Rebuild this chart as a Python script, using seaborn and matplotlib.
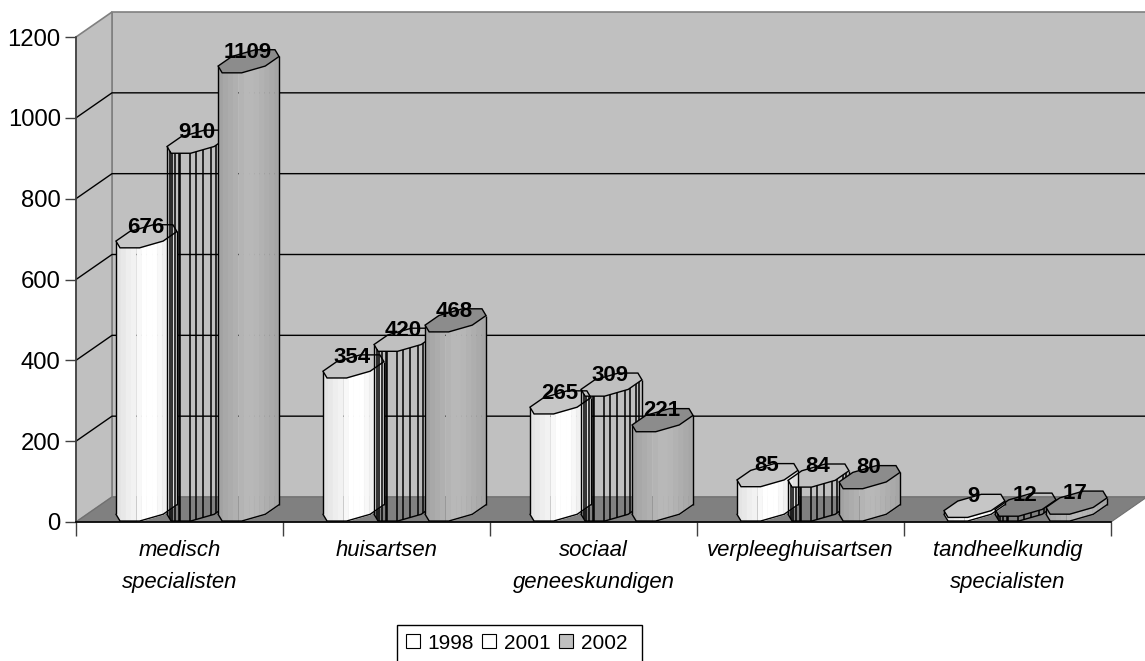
import numpy as np
import pandas as pd
import matplotlib
matplotlib.use("Agg")
import matplotlib.pyplot as plt
from matplotlib.patches import Patch, Rectangle
import seaborn as sns

categories = ["medisch\nspecialisten", "huisartsen", "sociaal\ngeneeskundigen",
              "verpleeghuisartsen", "tandheelkundig\nspecialisten"]
years = ["1998", "2001", "2002"]
values_1998 = [676, 354, 265, 85, 9]
values_2001 = [910, 420, 309, 84, 12]
values_2002 = [1109, 468, 221, 80, 17]
y_ticks = [0, 200, 400, 600, 800, 1000, 1200]

sns.set_theme(style="white")
plt.rcParams["font.family"] = ["Liberation Sans", "DejaVu Sans"]

W, H = 1145, 661
fig = plt.figure(figsize=(W / 100, H / 100), dpi=100, facecolor="white")
ax = fig.add_axes([76 / W, (H - 522) / H, 1069 / W, 510 / H])
ax.patch.set_alpha(0)

frame = pd.DataFrame({
    "category": categories * 3,
    "year": np.repeat(years, 5),
    "value": values_1998 + values_2001 + values_2002,
})
sns.barplot(data=frame, x="category", y="value", hue="year", order=categories,
            hue_order=years, width=0.74, gap=0, dodge=True, legend=False, ax=ax)

# Oblique projection of the floor depth, in data units
px_x = 207.0
px_y = 485.0 / 1200.0
depth_x = 36.0 / px_x
depth_y = 25.0 / px_y
ax.set_xlim(-0.5, -0.5 + 1069 / px_x)
ax.set_ylim(0, 510 / px_y)

# Walls and floor
left, right, top = -0.5, 4.5, 1200
wall_edge = "#808080"
ax.fill([left + depth_x, right + depth_x, right + depth_x, left + depth_x],
        [depth_y, depth_y, top + depth_y, top + depth_y],
        fc="#C0C0C0", ec=wall_edge, lw=1.2, zorder=0.5, clip_on=False)
ax.fill([left, left + depth_x, left + depth_x, left],
        [0, depth_y, top + depth_y, top],
        fc="#C0C0C0", ec=wall_edge, lw=1.2, zorder=0.5, clip_on=False)
ax.fill([left, left + depth_x, right + depth_x, right],
        [0, depth_y, depth_y, 0],
        fc="#808080", ec="#707070", lw=0.8, zorder=0.6, clip_on=False)
for tick in y_ticks[1:-1]:
    ax.plot([left, left + depth_x, right + depth_x],
            [tick, tick + depth_y, tick + depth_y],
            color="black", lw=1.0, zorder=0.7, clip_on=False)

angles = np.deg2rad(22.5 + 45 * np.arange(8))
front_angles = np.deg2rad([202.5, 247.5, 292.5, 337.5, 382.5])

shades = {
    "1998": ["#E4E4E4", "#E8E8E8", "#EEEEEE", "#F2F2F2", "#F8F8F8", "#FFFFFF",
             "#FFFFFF", "#FFFFFF", "#F8F8F8", "#F0F0F0", "#E8E8E8", "#E0E0E0"],
    "2002": ["#A2A2A2", "#A8A8A8", "#ACACAC", "#B0B0B0", "#B4B4B4", "#B8B8B8",
             "#B8B8B8", "#B6B6B6", "#B2B2B2", "#AEAEAE", "#AAAAAA", "#A6A6A6"],
}
cap_colors = {"1998": "#C6C6C6", "2001": "none", "2002": "#8C8C8C"}
hatch_fracs = np.array([2.7, 4.7, 8, 12.3, 14, 24, 30, 38, 45.7, 51.7, 57.3, 61.3]) / 64


def column(cx, half_width, value, year, z):
    """Draw one octagonal column standing on the floor."""
    mid_x = cx + depth_x / 2
    def ring(th):
        return (mid_x + half_width * np.cos(th) + depth_x / 2 * np.sin(th),
                depth_y / 2 * np.sin(th))
    fx, fy = ring(front_angles)
    order = np.argsort(fx)
    fx, fy = fx[order], fy[order] + depth_y / 2
    if year in shades:
        edges = np.linspace(fx[0], fx[-1], len(shades[year]) + 1)
        for a, b, shade in zip(edges[:-1], edges[1:], shades[year]):
            xs = np.linspace(a, b, 6)
            low = np.interp(xs, fx, fy)
            ax.fill_between(xs, low, low + value, color=shade, lw=0.3, zorder=z)
    else:
        xs = fx[0] + hatch_fracs * (fx[-1] - fx[0])
        low = np.interp(xs, fx, fy)
        ax.vlines(xs, low, low + value, color="black", lw=1.1, zorder=z)
    ax.plot(fx, fy, color="black", lw=1.0, zorder=z + 0.1)
    ax.vlines([fx[0], fx[-1]], [fy[0], fy[-1]],
              [fy[0] + value, fy[-1] + value], color="black", lw=1.0, zorder=z + 0.1)
    rx, ry = ring(angles)
    ax.fill(rx, ry + value + depth_y / 2, fc=cap_colors[year], ec="black",
            lw=1.0, zorder=z + 0.2)
    ax.text(mid_x - 1 / px_x, value + depth_y - 8, f"{value:.0f}", ha="center", va="center",
            fontsize=16, fontweight="bold", color="black", zorder=50)


# Columns take their place and size from the bars laid out by seaborn
for g in range(len(categories)):
    for s, container in enumerate(ax.containers):
        bar = container[g]
        column(bar.get_x() + bar.get_width() / 2, bar.get_width() / 2,
               bar.get_height(), years[s], 2 + g * 3 + s)
for container in ax.containers:
    for bar in container:
        bar.set_visible(False)

# Axes, ticks and labels
for name in ("top", "right"):
    ax.spines[name].set_visible(False)
ax.spines["left"].set_bounds(0, top)
ax.spines["left"].set_color("#404040")
ax.spines["left"].set_linewidth(1.2)
ax.spines["bottom"].set_bounds(left, right)
ax.spines["bottom"].set_color("black")
ax.spines["bottom"].set_linewidth(1.2)
ax.spines["left"].set_zorder(40)
ax.spines["bottom"].set_zorder(40)
ax.set_xlabel("")
ax.set_ylabel("")
ax.set_yticks(y_ticks)
ax.set_yticklabels([str(t) for t in y_ticks])
ax.tick_params(axis="y", length=8, width=1, color="#404040", labelsize=17.2,
               labelcolor="black", pad=3, left=True)
ax.set_xticks(np.arange(left, right + 0.5), labels=[""] * 6)
ax.set_xticks(np.arange(5), labels=categories, minor=True)
ax.tick_params(axis="x", which="major", length=10, width=1, color="#404040", bottom=True)
ax.tick_params(axis="x", which="minor", length=0, labelsize=15.9, labelcolor="black", pad=13)
for label in ax.get_xticklabels(minor=True):
    label.set_fontstyle("italic")
    label.set_linespacing(1.68)

# Legend entries with a separate box running off the lower edge of the figure
handles = [Patch(fc=c, ec="black", lw=0.8) for c in ("white", "white", "#C0C0C0")]
legend = fig.legend(handles, years, loc="upper left",
                    bbox_to_anchor=(397 / W, (H - 625) / H), ncol=3, frameon=False,
                    fontsize=15, labelcolor="black",
                    handlelength=0.66, handleheight=0.66, handletextpad=0.36,
                    columnspacing=0.43, borderpad=0.42, borderaxespad=0)
fig.add_artist(Rectangle((397 / W, -0.02), (642 - 397) / W, (H - 625) / H + 0.02,
                         transform=fig.transFigure, fc="none", ec="black", lw=1.0))

fig.savefig("out.png", dpi=100)
